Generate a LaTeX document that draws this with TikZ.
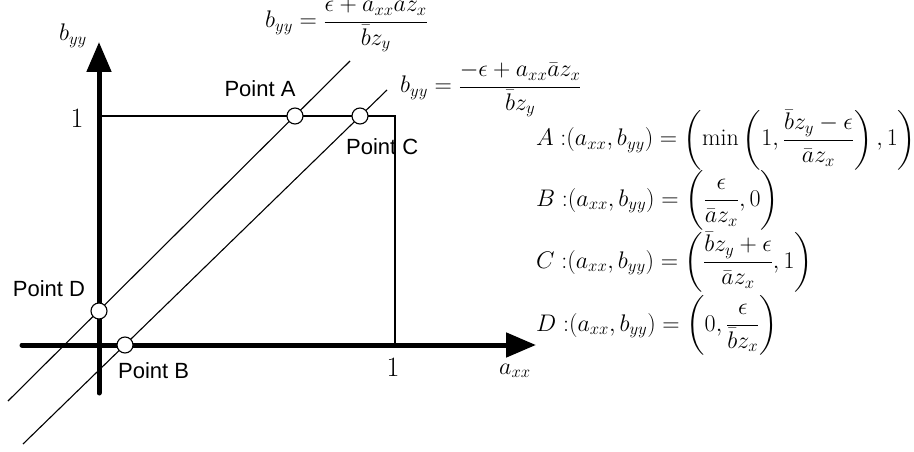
\RequirePackage{fix-cm}
\documentclass[tikz,border=0pt]{standalone}
\usepackage{amsmath}
\usepackage{fontspec}
\newfontfamily\labfont{Liberation Sans}
\usetikzlibrary{arrows.meta}
\begin{document}
\begin{tikzpicture}[x=1pt,y=-1pt,
  axisline/.style={line width=5pt, line cap=round, -{Triangle[length=30pt,width=24pt]}},
  guide/.style={line width=1.1pt},
  ptmark/.style={circle, draw, fill=white, line width=1.1pt, minimum size=16pt, inner sep=0pt},
  ptlab/.style={font=\fontsize{22}{26}\labfont, inner sep=0pt},
  mth/.style={font=\fontsize{24}{28}\selectfont, inner sep=0pt},
  onelab/.style={font=\fontsize{28}{32}\selectfont, inner sep=0pt}]
\useasboundingbox (0,0) rectangle (914,452);
% axes coordinates
\coordinate (xL) at (22,345);
\coordinate (xR) at (536,345);
\coordinate (yB) at (99,393);
\coordinate (yT) at (99,42);
% rectangle
\coordinate (r1) at (99,116);
\coordinate (r2) at (395,116);
\coordinate (r3) at (395,345);
\draw[guide] (r1) -- (r2) -- (r3);
% diagonal lines
\coordinate (l1s) at (8,401);
\coordinate (l1e) at (350,61);
\coordinate (l2s) at (23,444);
\coordinate (l2e) at (387,90);
\draw[guide] (l1s) -- (l1e);
\draw[guide] (l2s) -- (l2e);
% axes
\draw[axisline] (xL) -- (xR);
\draw[axisline] (yB) -- (yT);
% points
\node[ptmark] (pA) at (295,116) {};
\node[ptmark] (pC) at (360,116) {};
\node[ptmark] (pD) at (99,311) {};
\node[ptmark] (pB) at (125,345) {};
% point labels
\node[ptlab] (tA) at (260,89) {Point A};
\node[ptlab, anchor=west] (tC) at (346,147) {Point C};
\node[ptlab] (tD) at (49,289) {Point D};
\node[ptlab, anchor=west] (tB) at (118,371) {Point B};
% axis labels
\node[mth] (byy) at (73,36) {$b_{yy}$};
\node[mth] (axx) at (515,371) {$a_{xx}$};
\node[onelab] (one1) at (77,118) {$1$};
\node[onelab] (one2) at (393,367) {$1$};
% line equations
\node[mth, anchor=base west] (eq1) at (265,28) {$\displaystyle b_{yy}=\frac{\epsilon+a_{xx}az_x}{\bar{b}z_y}$};
\node[mth, anchor=base west] (eq2) at (400,93) {$\displaystyle b_{yy}=\frac{-\epsilon+a_{xx}\bar{a}z_x}{\bar{b}z_y}$};
% point formulas
\node[mth, anchor=base west] (fA) at (536,146) {$\displaystyle A\;{:}(a_{xx},b_{yy})=\left(\min\left(1,\frac{\bar{b}z_y-\epsilon}{\bar{a}z_x}\right),1\right)$};
\node[mth, anchor=base west] (fB) at (536,206) {$\displaystyle B\;{:}(a_{xx},b_{yy})=\left(\frac{\epsilon}{\bar{a}z_x},0\right)$};
\node[mth, anchor=base west] (fC) at (536,268) {$\displaystyle C\;{:}(a_{xx},b_{yy})=\left(\frac{\bar{b}z_y+\epsilon}{\bar{a}z_x},1\right)$};
\node[mth, anchor=base west] (fD) at (536,331) {$\displaystyle D\;{:}(a_{xx},b_{yy})=\left(0,\frac{\epsilon}{\bar{b}z_x}\right)$};
\end{tikzpicture}
\end{document}
